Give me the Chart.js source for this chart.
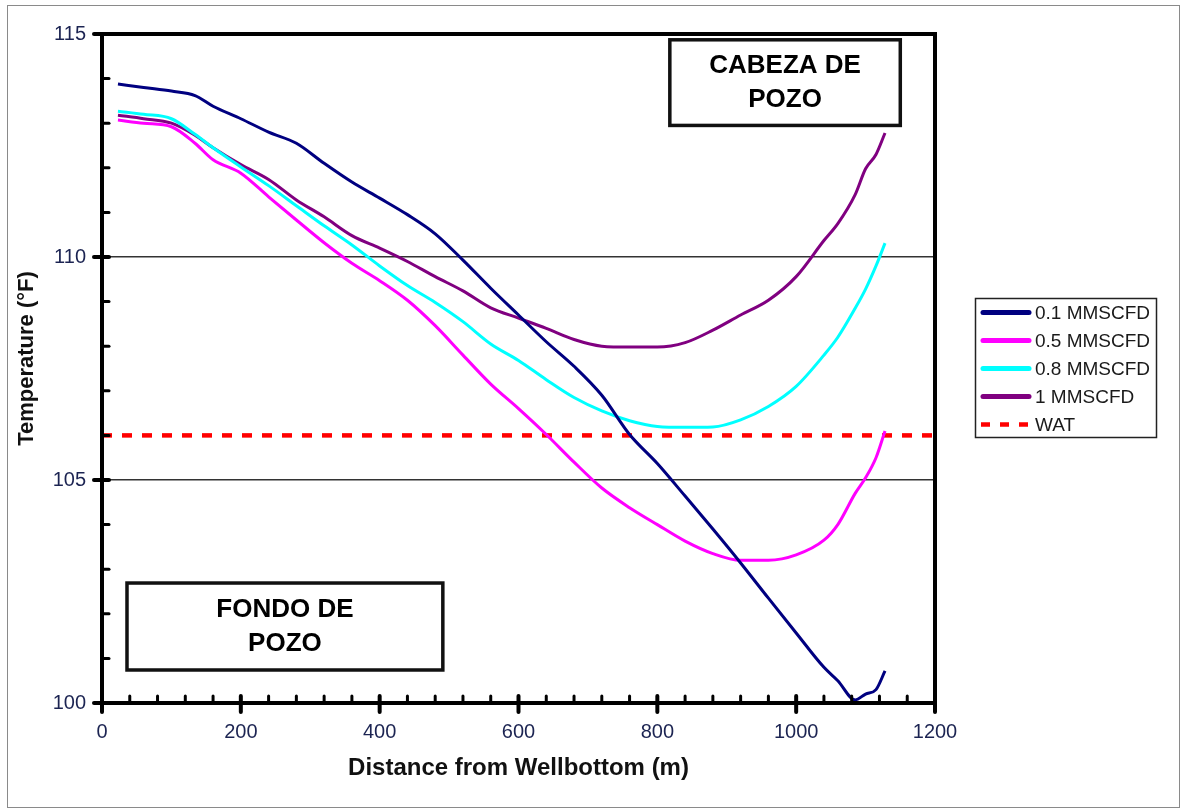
<!DOCTYPE html>
<html><head><meta charset="utf-8">
<script src="https://cdn.jsdelivr.net/npm/chart.js@4.4.1/dist/chart.umd.min.js"></script>
<style>html,body{margin:0;padding:0;background:#fff;overflow:hidden}canvas{display:block}</style>
</head><body>
<canvas id="c" width="1181" height="810"></canvas>
<script>
// ---- data ----
const distance = [23, 60, 100, 134, 160, 200, 240, 280, 320, 360, 400, 440, 480, 520, 560, 600, 640, 680, 720, 760, 800, 840, 880, 920, 960, 1000, 1040, 1060, 1085, 1100, 1115, 1128];
const temp01 = [113.88, 113.8, 113.72, 113.62, 113.38, 113.1, 112.8, 112.55, 112.1, 111.68, 111.32, 110.95, 110.52, 109.93, 109.3, 108.7, 108.1, 107.55, 106.9, 106.02, 105.37, 104.64, 103.9, 103.14, 102.35, 101.57, 100.8, 100.5, 100.07, 100.2, 100.3, 100.72];
const temp05 = [113.07, 113.0, 112.92, 112.55, 112.18, 111.88, 111.35, 110.83, 110.32, 109.86, 109.47, 109.03, 108.46, 107.8, 107.15, 106.6, 106.02, 105.4, 104.82, 104.38, 104.0, 103.63, 103.35, 103.2, 103.2, 103.32, 103.65, 104.0, 104.7, 105.05, 105.5, 106.1];
const temp08 = [113.27, 113.2, 113.1, 112.75, 112.45, 112.02, 111.6, 111.15, 110.7, 110.27, 109.8, 109.36, 108.98, 108.55, 108.05, 107.68, 107.25, 106.85, 106.55, 106.33, 106.2, 106.18, 106.19, 106.35, 106.65, 107.1, 107.8, 108.2, 108.85, 109.28, 109.8, 110.31];
const temp10 = [113.18, 113.1, 113.0, 112.73, 112.45, 112.07, 111.74, 111.28, 110.9, 110.48, 110.2, 109.9, 109.56, 109.24, 108.86, 108.63, 108.4, 108.15, 108.0, 107.98, 107.98, 108.08, 108.36, 108.7, 109.03, 109.56, 110.37, 110.75, 111.4, 111.98, 112.3, 112.78];
const watDistance = [0, 1200];
const watTemp = [106, 106];
const seriesLabels = ['0.1 MMSCFD', '0.5 MMSCFD', '0.8 MMSCFD', '1 MMSCFD', 'WAT'];
const noteTop = ['CABEZA DE', 'POZO'];
const noteBottom = ['FONDO DE', 'POZO'];
const xTitle = 'Distance from Wellbottom (m)';
const yTitle = 'Temperature (°F)';

const pts = (xs, ys) => xs.map((x, i) => ({x, y: ys[i]}));
const FONT = "'Liberation Sans', Arial, sans-serif";

function lineDs(label, data, color) {
  return {label, data, borderColor: color, backgroundColor: color, borderWidth: 3,
    pointRadius: 0, cubicInterpolationMode: 'monotone', fill: false};
}

const decor = {
  id: 'decor',
  beforeDraw(chart) {
    const ctx = chart.ctx;
    ctx.save();
    ctx.fillStyle = '#fff';
    ctx.fillRect(0, 0, chart.width, chart.height);
    ctx.strokeStyle = '#8a8a8a';
    ctx.lineWidth = 1;
    ctx.strokeRect(7.5, 5.5, chart.width - 9, chart.height - 8);
    ctx.restore();
  },
  afterDatasetsDraw(chart) {
    const ctx = chart.ctx;
    const xs = chart.scales.x, ys = chart.scales.y;
    const {left, right, top, bottom} = chart.chartArea;
    ctx.save();
    // frame
    ctx.strokeStyle = '#000';
    ctx.lineWidth = 4;
    ctx.strokeRect(left, top, right - left, bottom - top);
    // ticks
    ctx.lineCap = 'round';
    for (let v = 0; v <= 1200; v += 40) {
      const px = xs.getPixelForValue(v);
      const major = v % 200 === 0;
      ctx.lineWidth = major ? 4 : 3;
      ctx.beginPath();
      ctx.moveTo(px, major ? bottom + 9 : bottom);
      ctx.lineTo(px, bottom - 7);
      ctx.stroke();
    }
    for (let v = 100; v <= 115; v += 1) {
      const py = ys.getPixelForValue(v);
      const major = v % 5 === 0;
      ctx.lineWidth = major ? 4 : 3;
      ctx.beginPath();
      ctx.moveTo(major ? left - 8 : left, py);
      ctx.lineTo(left + 7, py);
      ctx.stroke();
    }
    ctx.lineCap = 'butt';
    // note boxes (data coordinates)
    const box = (x1, x2, y1, y2, lines) => {
      const a = xs.getPixelForValue(x1), b = xs.getPixelForValue(x2);
      const c = ys.getPixelForValue(y1), d = ys.getPixelForValue(y2);
      ctx.fillStyle = '#fff';
      ctx.fillRect(a, c, b - a, d - c);
      ctx.strokeStyle = '#111';
      ctx.lineWidth = 3.5;
      ctx.strokeRect(a, c, b - a, d - c);
      ctx.fillStyle = '#000';
      ctx.font = 'bold 26px ' + FONT;
      ctx.textAlign = 'center';
      ctx.textBaseline = 'middle';
      const cx = (a + b) / 2, cy = (c + d) / 2;
      lines.forEach((t, i) => ctx.fillText(t, cx, cy + (i - (lines.length - 1) / 2) * 34));
    };
    box(818, 1150, 114.87, 112.95, noteTop);
    box(36, 491, 102.69, 100.74, noteBottom);
    // legend
    const L = {x: 975.5, y: 298.5, w: 181, h: 139};
    ctx.fillStyle = '#fff';
    ctx.fillRect(L.x, L.y, L.w, L.h);
    ctx.strokeStyle = '#222';
    ctx.lineWidth = 1.5;
    ctx.strokeRect(L.x, L.y, L.w, L.h);
    chart.data.datasets.forEach((ds, i) => {
      const y = 312.5 + i * 28;
      ctx.strokeStyle = ds.borderColor;
      ctx.beginPath();
      if (ds.borderDash && ds.borderDash.length) {
        ctx.lineWidth = 4.5; ctx.setLineDash([9, 10]); ctx.lineCap = 'butt';
        ctx.moveTo(981, y); ctx.lineTo(1031, y);
      } else {
        ctx.lineWidth = 5; ctx.setLineDash([]); ctx.lineCap = 'round';
        ctx.moveTo(983, y); ctx.lineTo(1029, y);
      }
      ctx.stroke();
      ctx.setLineDash([]);
      ctx.fillStyle = '#1a1a1a';
      ctx.font = '19px ' + FONT;
      ctx.textAlign = 'left';
      ctx.textBaseline = 'middle';
      ctx.fillText(ds.label, 1035, y + 1);
    });
    // y title
    ctx.translate(27, (top + bottom) / 2 - 10);
    ctx.rotate(-Math.PI / 2);
    ctx.fillStyle = '#111';
    ctx.font = 'bold 22px ' + FONT;
    ctx.textAlign = 'center';
    ctx.textBaseline = 'middle';
    ctx.fillText(yTitle, 0, 0);
    ctx.restore();
  }
};

new Chart(document.getElementById('c'), {
  type: 'line',
  data: {
    datasets: [
      lineDs(seriesLabels[0], pts(distance, temp01), '#000080'),
      lineDs(seriesLabels[1], pts(distance, temp05), '#FF00FF'),
      lineDs(seriesLabels[2], pts(distance, temp08), '#00FFFF'),
      lineDs(seriesLabels[3], pts(distance, temp10), '#800080'),
      {label: seriesLabels[4], data: pts(watDistance, watTemp), borderColor: '#FF0000', backgroundColor: '#FF0000',
       borderWidth: 4.5, borderDash: [10, 10], pointRadius: 0, fill: false}
    ]
  },
  options: {
    responsive: false,
    animation: false,
    devicePixelRatio: 1,
    layout: {padding: {left: 0, top: 34, right: 246, bottom: 27}},
    plugins: {legend: {display: false}, tooltip: {enabled: false}},
    scales: {
      x: {
        type: 'linear', min: 0, max: 1200,
        afterFit: s => { s.height = 80; },
        ticks: {stepSize: 200, padding: 17, color: '#1c2452', font: {family: FONT, size: 20},
          callback: v => String(v)},
        grid: {display: false, drawTicks: false},
        border: {display: false},
        title: {display: true, text: xTitle, color: '#111', font: {family: FONT, size: 24, weight: 'bold'}, padding: {top: 0, bottom: 0}}
      },
      y: {
        min: 100, max: 115,
        afterFit: s => { s.width = 102; },
        ticks: {stepSize: 5, padding: 16, color: '#1c2452', font: {family: FONT, size: 20},
          callback: v => String(v)},
        grid: {drawTicks: false, lineWidth: 1.5,
          color: c => (c.tick && (c.tick.value === 105 || c.tick.value === 110)) ? '#333' : 'rgba(0,0,0,0)'},
        border: {display: false},
        title: {display: false}
      }
    }
  },
  plugins: [decor]
});
</script>
</body></html>
